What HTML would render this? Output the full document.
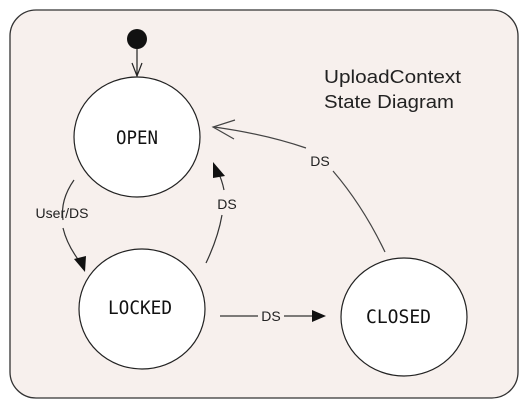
<!DOCTYPE html>
<html><head><style>
html,body{margin:0;padding:0;background:#fff;}
svg{display:block;}
.t{font-family:"Liberation Sans",sans-serif;}
.m{font-family:"DejaVu Sans Mono",monospace;}
</style></head><body>
<svg width="527" height="405" viewBox="0 0 527 405">
<rect x="10" y="10" width="508" height="388" rx="26" fill="#f7f0ed" stroke="#333" stroke-width="1.3"/>
<circle cx="137" cy="39" r="10" fill="#111"/>
<line x1="137" y1="49" x2="137" y2="76" stroke="#222" stroke-width="1.2"/>
<polyline points="132,63 137,76 142,63" fill="none" stroke="#222" stroke-width="1.2"/>
<ellipse cx="137" cy="137" rx="63" ry="60" fill="#fff" stroke="#222" stroke-width="1.2"/>
<ellipse cx="142" cy="309" rx="63" ry="60" fill="#fff" stroke="#222" stroke-width="1.2"/>
<ellipse cx="404" cy="317" rx="63" ry="59" fill="#fff" stroke="#222" stroke-width="1.2"/>
<text class="m" x="116" y="144" font-size="19" textLength="42" lengthAdjust="spacingAndGlyphs" fill="#111">OPEN</text>
<text class="m" x="108" y="314" font-size="19" textLength="64" lengthAdjust="spacingAndGlyphs" fill="#111">LOCKED</text>
<text class="m" x="366" y="323" font-size="19" textLength="65" lengthAdjust="spacingAndGlyphs" fill="#111">CLOSED</text>
<text class="t" x="324" y="83" font-size="18" textLength="137" lengthAdjust="spacingAndGlyphs" fill="#222">UploadContext</text>
<text class="t" x="324" y="108" font-size="18" textLength="130" lengthAdjust="spacingAndGlyphs" fill="#222">State Diagram</text>
<path d="M74,180 Q60,200 63,220" fill="none" stroke="#333" stroke-width="1.2"/>
<path d="M63,228 Q67,245 80,262" fill="none" stroke="#333" stroke-width="1.2"/>
<polygon points="74,259 86,256 85,272" fill="#111"/>
<text class="t" x="62" y="218" font-size="14" text-anchor="middle" fill="#222">User/DS</text>
<path d="M206,263 Q218,238 222,215" fill="none" stroke="#333" stroke-width="1.2"/>
<path d="M224,190 Q222,180 218,172" fill="none" stroke="#333" stroke-width="1.2"/>
<polygon points="213,162 225,176 213,178" fill="#111"/>
<text class="t" x="227" y="209" font-size="14" text-anchor="middle" fill="#222">DS</text>
<line x1="220" y1="316" x2="258" y2="316" stroke="#333" stroke-width="1.2"/>
<line x1="284" y1="316" x2="315" y2="316" stroke="#333" stroke-width="1.2"/>
<polygon points="312,310 326,316 312,322" fill="#111"/>
<text class="t" x="271" y="321" font-size="14" text-anchor="middle" fill="#222">DS</text>
<path d="M385,252 Q363,206 333,171" fill="none" stroke="#444" stroke-width="1.2"/>
<path d="M306,148 Q265,134 214,127" fill="none" stroke="#444" stroke-width="1.2"/>
<polyline points="235,120 213,127 234,139" fill="none" stroke="#444" stroke-width="1.2"/>
<text class="t" x="320" y="166" font-size="14" text-anchor="middle" fill="#222">DS</text>
</svg>
</body></html>
